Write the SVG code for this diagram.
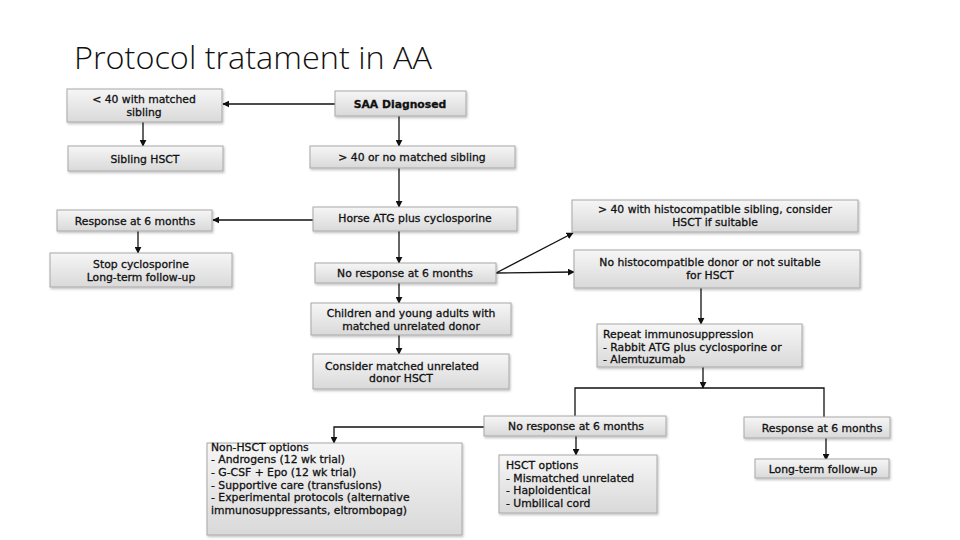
<svg xmlns="http://www.w3.org/2000/svg" width="960" height="540" viewBox="0 0 960 540">
<defs>
<linearGradient id="g" x1="0" y1="0" x2="0" y2="1">
<stop offset="0" stop-color="#f6f6f6"/>
<stop offset="1" stop-color="#d9d9d9"/>
</linearGradient>
<filter id="sh" x="-5%" y="-10%" width="115%" height="130%">
<feDropShadow dx="1" dy="1.5" stdDeviation="1" flood-color="#000" flood-opacity="0.25"/>
</filter>
<marker id="ah" viewBox="0 0 10 10" refX="9" refY="5" markerWidth="7" markerHeight="7" markerUnits="userSpaceOnUse" orient="auto">
<path d="M0,0 L10,5 L0,10 z" fill="#111"/>
</marker>
<style>
.b{fill:url(#g);stroke:#a8a8a8;stroke-width:1;filter:url(#sh)}
.t{font-family:"DejaVu Sans","Liberation Sans",sans-serif;font-size:10.8px;fill:#111;stroke:#111;stroke-width:0.3}
.c{text-anchor:middle}
.l{fill:none;stroke:#111;stroke-width:1.3}
.a{marker-end:url(#ah)}
</style>
</defs>
<rect width="960" height="540" fill="#fff"/>
<text x="74" y="69" font-family="'Open Sans','Liberation Sans',sans-serif" font-weight="300" font-size="32" fill="#111" textLength="358" lengthAdjust="spacingAndGlyphs">Protocol tratament in AA</text>

<g id="connectors">
<line class="l a" x1="335" y1="104" x2="223" y2="104"/>
<line class="l a" x1="143" y1="122" x2="143" y2="146"/>
<line class="l a" x1="399" y1="116" x2="399" y2="146"/>
<line class="l a" x1="399" y1="168" x2="399" y2="207"/>
<line class="l a" x1="313" y1="220" x2="213" y2="220"/>
<line class="l a" x1="138" y1="231" x2="138" y2="253"/>
<line class="l a" x1="399" y1="231" x2="399" y2="263"/>
<line class="l a" x1="399" y1="283" x2="399" y2="303"/>
<line class="l a" x1="399" y1="335" x2="399" y2="354"/>
<line class="l a" x1="496" y1="273" x2="573" y2="233"/>
<line class="l a" x1="496" y1="273" x2="574" y2="272"/>
<line class="l a" x1="701" y1="288" x2="701" y2="324"/>
<line class="l a" x1="703" y1="367" x2="703" y2="388"/>
<polyline class="l" points="575,416 575,388 824,388 824,417"/>
<line class="l a" x1="576" y1="436" x2="576" y2="455"/>
<line class="l a" x1="826" y1="438" x2="826" y2="460"/>
<polyline class="l a" points="484,427 334,427 334,443"/>
</g>

<g id="n-sibling-lt40"><rect class="b" x="67" y="89" width="155" height="33"/>
<text class="t c" x="144" y="103">&lt; 40 with matched</text><text class="t c" x="144" y="116">sibling</text></g>
<g id="n-sibling-hsct"><rect class="b" x="68" y="146" width="155" height="25"/>
<text class="t c" x="145" y="163">Sibling HSCT</text></g>
<g id="n-response-left"><rect class="b" x="57" y="210" width="155" height="21"/>
<text class="t c" x="135" y="225">Response at 6 months</text></g>
<g id="n-stop"><rect class="b" x="50" y="253" width="182" height="34"/>
<text class="t c" x="141" y="267.5">Stop cyclosporine</text><text class="t c" x="141" y="280.5">Long-term follow-up</text></g>
<g id="n-saa"><rect class="b" x="335" y="91" width="131" height="25"/>
<text class="t c" x="400" y="107.5" font-weight="700">SAA Diagnosed</text></g>
<g id="n-gt40"><rect class="b" x="310" y="146" width="205" height="22"/>
<text class="t c" x="412" y="161">&gt; 40 or no matched sibling</text></g>
<g id="n-horse"><rect class="b" x="313" y="207" width="204" height="24"/>
<text class="t c" x="415" y="222">Horse ATG plus cyclosporine</text></g>
<g id="n-noresp"><rect class="b" x="315" y="263" width="181" height="20"/>
<text class="t c" x="405" y="277">No response at 6 months</text></g>
<g id="n-children"><rect class="b" x="311" y="303" width="200" height="32"/>
<text class="t c" x="411" y="317">Children and young adults with</text><text class="t c" x="411" y="329.7">matched unrelated donor</text></g>
<g id="n-consider"><rect class="b" x="313" y="354" width="196" height="35"/>
<text class="t c" x="402" y="369.5">Consider matched unrelated</text><text class="t c" x="401" y="382.2">donor HSCT</text></g>
<g id="n-histosib"><rect class="b" x="572" y="200" width="286" height="32"/>
<text class="t c" x="715" y="213">&gt; 40 with histocompatible sibling, consider</text><text class="t c" x="715" y="225.7">HSCT if suitable</text></g>
<g id="n-nohisto"><rect class="b" x="574" y="250" width="286" height="38"/>
<text class="t c" x="710" y="266">No histocompatible donor or not suitable</text><text class="t c" x="710" y="278.7">for HSCT</text></g>
<g id="n-repeat"><rect class="b" x="597" y="324" width="205" height="43"/>
<text class="t" x="603" y="338">Repeat immunosuppression</text><text class="t" x="603" y="350.7">- Rabbit ATG plus cyclosporine or</text><text class="t" x="603" y="363.4">- Alemtuzumab</text></g>
<g id="n-noresp2"><rect class="b" x="484" y="416" width="182" height="20"/>
<text class="t c" x="576" y="430">No response at 6 months</text></g>
<g id="n-resp2"><rect class="b" x="744" y="417" width="146" height="21"/>
<text class="t c" x="822" y="431.5">Response at 6 months</text></g>
<g id="n-longterm"><rect class="b" x="755" y="459" width="134" height="19"/>
<text class="t c" x="823" y="472.5">Long-term follow-up</text></g>
<g id="n-nonhsct"><rect class="b" x="207" y="443" width="255" height="92"/>
<text class="t" x="211" y="450.5">Non-HSCT options</text><text class="t" x="211" y="463.2">- Androgens (12 wk trial)</text><text class="t" x="211" y="475.9">- G-CSF + Epo (12 wk trial)</text><text class="t" x="211" y="488.6">- Supportive care (transfusions)</text><text class="t" x="211" y="501.3">- Experimental protocols (alternative</text><text class="t" x="211" y="514">immunosuppressants, eltrombopag)</text></g>
<g id="n-hsct"><rect class="b" x="499" y="455" width="158" height="58"/>
<text class="t" x="506" y="469">HSCT options</text><text class="t" x="506" y="481.7">- Mismatched unrelated</text><text class="t" x="506" y="494.4">- Haploidentical</text><text class="t" x="506" y="507.1">- Umbilical cord</text></g>
</svg>
